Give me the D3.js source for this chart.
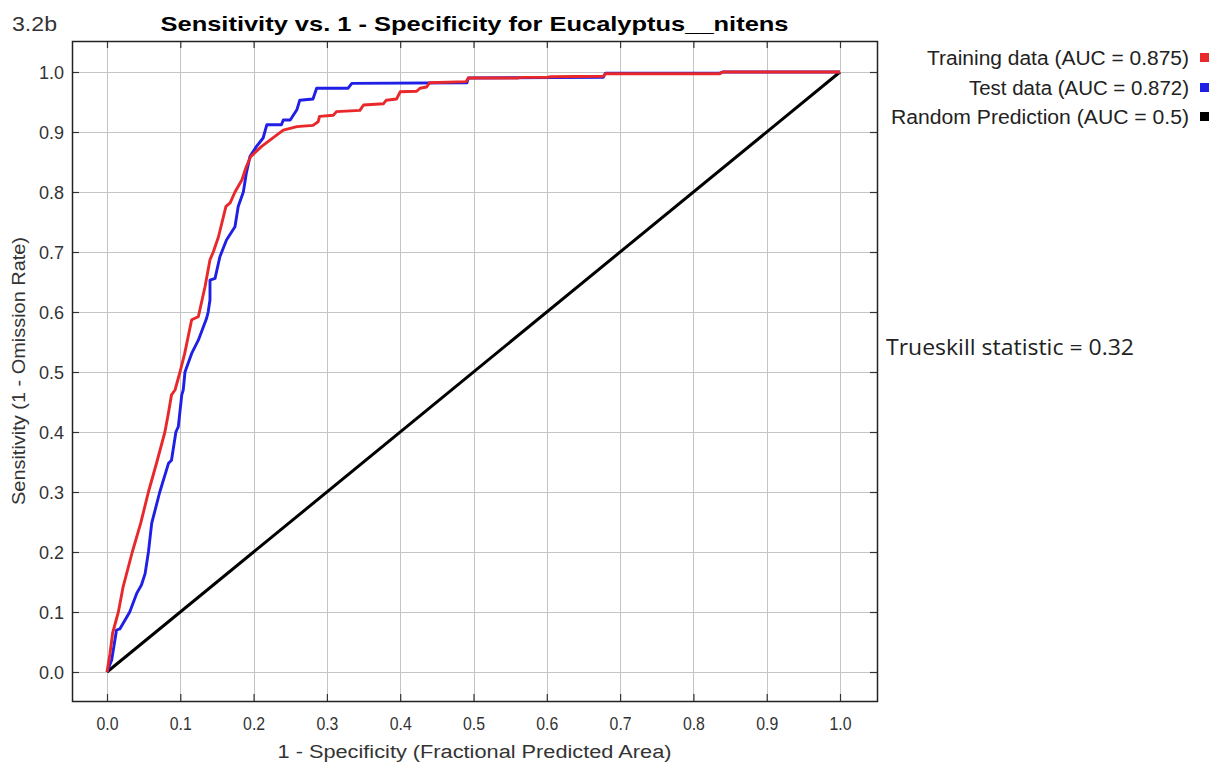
<!DOCTYPE html>
<html>
<head>
<meta charset="utf-8">
<script src="https://cdn.jsdelivr.net/npm/d3@7"></script>
<style>
html,body{margin:0;padding:0;background:#fff;}
svg{display:block;}
</style>
</head>
<body>
<svg id="chart" width="1222" height="769"></svg>
<script>
// ---- data ----
const xTicks = [0,0.1,0.2,0.3,0.4,0.5,0.6,0.7,0.8,0.9,1.0];
const yTicks = [0,0.1,0.2,0.3,0.4,0.5,0.6,0.7,0.8,0.9,1.0];
const tickLabels = ["0.0","0.1","0.2","0.3","0.4","0.5","0.6","0.7","0.8","0.9","1.0"];

const trainFPR = [0,0.004,0.0077,0.0155,0.022,0.0345,0.046,0.0565,0.068,0.079,0.0837,0.088,0.0928,0.0996,0.106,0.1155,0.1246,0.1337,0.1405,0.145,0.152,0.1623,0.168,0.1746,0.184,0.19,0.196,0.211,0.225,0.2405,0.259,0.281,0.288,0.29,0.309,0.313,0.345,0.35,0.377,0.381,0.395,0.4,0.4225,0.427,0.436,0.44,0.49,0.493,0.56,0.565,0.6,0.605,0.677,0.68,0.836,0.84,1.0];
const trainTPR = [0,0.03,0.065,0.1,0.142,0.2,0.248,0.3,0.35,0.4,0.431,0.462,0.47,0.5,0.531,0.587,0.592,0.642,0.687,0.7,0.725,0.776,0.782,0.8,0.82,0.842,0.859,0.876,0.889,0.903,0.909,0.911,0.917,0.926,0.928,0.934,0.936,0.945,0.947,0.953,0.955,0.967,0.968,0.973,0.975,0.982,0.984,0.99,0.99,0.991,0.991,0.992,0.993,0.997,0.997,1.0,1.0];

const testFPR = [0,0.0064,0.013,0.0177,0.031,0.0405,0.047,0.052,0.0565,0.061,0.072,0.084,0.088,0.094,0.0973,0.102,0.104,0.1064,0.1155,0.1246,0.136,0.138,0.1405,0.1405,0.1474,0.154,0.163,0.1746,0.179,0.186,0.19,0.195,0.204,0.213,0.218,0.238,0.2405,0.25,0.259,0.263,0.281,0.286,0.329,0.334,0.491,0.493,0.677,0.68,0.836,0.84,1.0];
const testTPR = [0,0.02,0.07,0.072,0.1,0.131,0.145,0.164,0.2,0.248,0.3,0.348,0.353,0.4,0.409,0.462,0.47,0.5,0.531,0.553,0.59,0.6,0.62,0.653,0.656,0.692,0.72,0.742,0.776,0.8,0.831,0.859,0.876,0.89,0.912,0.912,0.92,0.92,0.937,0.953,0.955,0.973,0.973,0.981,0.982,0.99,0.991,0.998,0.998,1.0,1.0];

const randomFPR = [0,1];
const randomTPR = [0,1];

const legendLabels = ["Training data (AUC = 0.875)","Test data (AUC = 0.872)","Random Prediction (AUC = 0.5)"];
const seriesColors = ["#e8282b","#1f1fe6","#000000"];

const titleText = "Sensitivity vs. 1 - Specificity for Eucalyptus__nitens";
const cornerText = "3.2b";
const xLabelText = "1 - Specificity  (Fractional Predicted Area)";
const yLabelText = "Sensitivity  (1 - Omission Rate)";
const noteText = "Trueskill statistic = 0.32";

// ---- layout ----
const svg = d3.select("#chart");
const frame = {left:72, top:41, right:877, bottom:701};
const x = d3.scaleLinear().domain([0,1]).range([107,840]);
const y = d3.scaleLinear().domain([0,1]).range([672,72]);
const sans = "'Liberation Sans', Arial, sans-serif";

svg.append("rect").attr("x",frame.left).attr("y",frame.top)
  .attr("width",frame.right-frame.left).attr("height",frame.bottom-frame.top)
  .attr("fill","#fff");

// grid
const grid = svg.append("g").attr("stroke","#c4c4c4").attr("stroke-width",1);
xTicks.forEach(t=>{
  grid.append("line").attr("x1",Math.round(x(t))+0.5).attr("x2",Math.round(x(t))+0.5)
    .attr("y1",frame.top).attr("y2",frame.bottom);
});
yTicks.forEach(t=>{
  grid.append("line").attr("y1",Math.round(y(t))+0.5).attr("y2",Math.round(y(t))+0.5)
    .attr("x1",frame.left).attr("x2",frame.right);
});

// axes (ticks inward on all sides)
const tk = 7;
const axB = svg.append("g").attr("transform",`translate(0,${frame.bottom})`)
  .call(d3.axisBottom(x).tickValues(xTicks).tickSizeInner(-tk).tickSizeOuter(0).tickFormat((d,i)=>tickLabels[i]));
const axT = svg.append("g").attr("transform",`translate(0,${frame.top})`)
  .call(d3.axisTop(x).tickValues(xTicks).tickSizeInner(-tk).tickSizeOuter(0).tickFormat(""));
const axL = svg.append("g").attr("transform",`translate(${frame.left},0)`)
  .call(d3.axisLeft(y).tickValues(yTicks).tickSizeInner(-tk).tickSizeOuter(0).tickFormat((d,i)=>tickLabels[i]));
const axR = svg.append("g").attr("transform",`translate(${frame.right},0)`)
  .call(d3.axisRight(y).tickValues(yTicks).tickSizeInner(-tk).tickSizeOuter(0).tickFormat(""));
[axB,axT,axL,axR].forEach(a=>{
  a.select(".domain").remove();
  a.selectAll(".tick line").attr("stroke","#333").attr("stroke-width",1.2);
});
axB.selectAll(".tick text").attr("font-family",sans).attr("font-size",19).attr("fill","#333")
  .attr("dy",null).attr("y",29).attr("textLength",22).attr("lengthAdjust","spacingAndGlyphs");
axL.selectAll(".tick text").attr("font-family",sans).attr("font-size",18).attr("fill","#333")
  .attr("x",-8).attr("dy","0.35em");

// lines
const line = d3.line().x(d=>x(d[0])).y(d=>y(d[1]));
const zipPts = (a,b)=>a.map((v,i)=>[v,b[i]]);
svg.append("path").datum(zipPts(randomFPR,randomTPR)).attr("d",line)
  .attr("fill","none").attr("stroke",seriesColors[2]).attr("stroke-width",3);
svg.append("path").datum(zipPts(testFPR,testTPR)).attr("d",line)
  .attr("fill","none").attr("stroke",seriesColors[1]).attr("stroke-width",2.9).attr("stroke-linejoin","round");
svg.append("path").datum(zipPts(trainFPR,trainTPR)).attr("d",line)
  .attr("fill","none").attr("stroke",seriesColors[0]).attr("stroke-width",2.9).attr("stroke-linejoin","round");

// frame border
svg.append("rect").attr("x",frame.left+0.5).attr("y",frame.top+0.5)
  .attr("width",frame.right-frame.left).attr("height",frame.bottom-frame.top)
  .attr("fill","none").attr("stroke","#222").attr("stroke-width",1.5);

// title & corner
svg.append("text").attr("x",(frame.left+frame.right)/2).attr("y",31)
  .attr("text-anchor","middle").attr("font-family",sans)
  .attr("font-weight","bold").attr("font-size",21).attr("fill","#000")
  .attr("textLength",628).attr("lengthAdjust","spacingAndGlyphs").text(titleText);
svg.append("text").attr("x",12).attr("y",31).attr("font-family",sans)
  .attr("font-size",21).attr("fill","#333")
  .attr("textLength",45).attr("lengthAdjust","spacingAndGlyphs").text(cornerText);

// axis labels
svg.append("text").attr("x",(frame.left+frame.right)/2).attr("y",758)
  .attr("text-anchor","middle").attr("font-family",sans).attr("font-size",18).attr("fill","#333")
  .attr("textLength",394).attr("lengthAdjust","spacingAndGlyphs").text(xLabelText);
svg.append("text").attr("transform",`translate(25,${(frame.top+frame.bottom)/2}) rotate(-90)`)
  .attr("text-anchor","middle").attr("font-family",sans).attr("font-size",18).attr("fill","#333")
  .attr("textLength",268).attr("lengthAdjust","spacingAndGlyphs").text(yLabelText);

// legend
const legY = [58,88,117];
const legW = [262,220,298];
legendLabels.forEach((lab,i)=>{
  svg.append("text").attr("x",1189).attr("y",legY[i]).attr("dy","0.35em")
    .attr("text-anchor","end").attr("font-family",sans).attr("font-size",20).attr("fill","#222")
    .attr("textLength",legW[i]).attr("lengthAdjust","spacingAndGlyphs")
    .text(lab);
  svg.append("rect").attr("x",1200).attr("y",legY[i]-5).attr("width",9).attr("height",9)
    .attr("fill",seriesColors[i]);
});

// note
svg.append("text").attr("x",886).attr("y",348).attr("dy","0.35em")
  .attr("font-family","'Open Sans', 'Noto Sans', sans-serif").attr("font-size",21).attr("fill","#222")
  .attr("textLength",248).attr("lengthAdjust","spacingAndGlyphs").text(noteText);
</script>
</body>
</html>
